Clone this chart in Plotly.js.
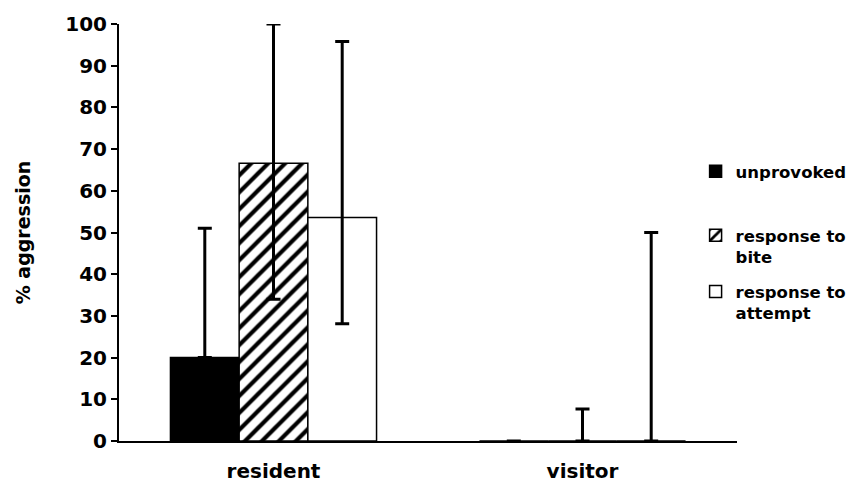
<!DOCTYPE html>
<html>
<head>
<meta charset="utf-8">
<script src="https://cdn.plot.ly/plotly-3.0.1.min.js"></script>
<style>html,body{margin:0;padding:0;background:#fff;}#chart{width:853px;height:483px;}</style>
</head>
<body>
<div id="chart"></div>
<script>
var categories = ['resident', 'visitor'];
var seriesNames = ['unprovoked', 'response to<br>bite', 'response to<br>attempt'];
var unprovoked = [20, 0];
var unprovokedErrPlus = [31, 0];
var unprovokedErrMinus = [0, 0];
var bite = [66.6, 0];
var biteErrPlus = [33.4, 7.7];
var biteErrMinus = [32.6, 0];
var attempt = [53.6, 0];
var attemptErrPlus = [42.2, 50];
var attemptErrMinus = [25.5, 0];
var yTicks = [0, 10, 20, 30, 40, 50, 60, 70, 80, 90, 100];

var FONT = 'DejaVu Sans, Liberation Sans, Arial, sans-serif';

function err(plus, minus) {
  return {type: 'data', symmetric: false, array: plus, arrayminus: minus,
          color: '#000', thickness: 3, width: 7, visible: true};
}

var traces = [
  {type: 'bar', name: seriesNames[0], x: categories, y: unprovoked,
   marker: {color: '#000', line: {color: '#000', width: 1.5}},
   error_y: err(unprovokedErrPlus, unprovokedErrMinus), cliponaxis: false, legend: 'legend'},
  {type: 'bar', name: seriesNames[1], x: categories, y: bite,
   marker: {color: '#fff', line: {color: '#000', width: 1.5},
            pattern: {shape: '/', size: 12, solidity: 0.35, fgcolor: '#000', bgcolor: '#fff'}},
   error_y: err(biteErrPlus, biteErrMinus), cliponaxis: false, legend: 'legend2'},
  {type: 'bar', name: seriesNames[2], x: categories, y: attempt,
   marker: {color: '#fff', line: {color: '#000', width: 1.5}},
   error_y: err(attemptErrPlus, attemptErrMinus), cliponaxis: false, legend: 'legend3'}
];

var legendBase = {
  xanchor: 'left', yanchor: 'top', valign: 'top', bgcolor: 'rgba(0,0,0,0)',
  font: {family: FONT, size: 16.5, color: '#000', weight: 'bold'}, borderwidth: 0
};

var layout = {
  width: 853, height: 483,
  margin: {l: 119, r: 116, t: 24, b: 42, autoexpand: false},
  paper_bgcolor: '#fff', plot_bgcolor: '#fff',
  barmode: 'group', bargap: 0.333, bargroupgap: 0,
  font: {family: FONT, color: '#000'},
  showlegend: true,
  legend: Object.assign({}, legendBase, {x: 0.933, y: 0.688}),
  legend2: Object.assign({}, legendBase, {x: 0.933, y: 0.535}),
  legend3: Object.assign({}, legendBase, {x: 0.933, y: 0.40}),
  xaxis: {
    type: 'category', showline: true, linecolor: '#000', linewidth: 2,
    ticks: '', showgrid: false, zeroline: false, fixedrange: true,
    tickfont: {family: FONT, size: 20, color: '#000', weight: 'bold'},
    ticklabelstandoff: 11, automargin: false
  },
  yaxis: {
    range: [0, 100], tickvals: yTicks, ticktext: yTicks.map(String),
    showline: true, linecolor: '#000', linewidth: 2,
    ticks: 'outside', ticklen: 6, tickwidth: 2, tickcolor: '#000',
    showgrid: false, zeroline: false, fixedrange: true, automargin: false,
    tickfont: {family: FONT, size: 20, color: '#000', weight: 'bold'},
    title: {text: '% aggression', standoff: 30,
            font: {family: FONT, size: 19, color: '#000', weight: 'bold'}}
  }
};

Plotly.newPlot('chart', traces, layout, {displayModeBar: false, staticPlot: true});
</script>
</body>
</html>
